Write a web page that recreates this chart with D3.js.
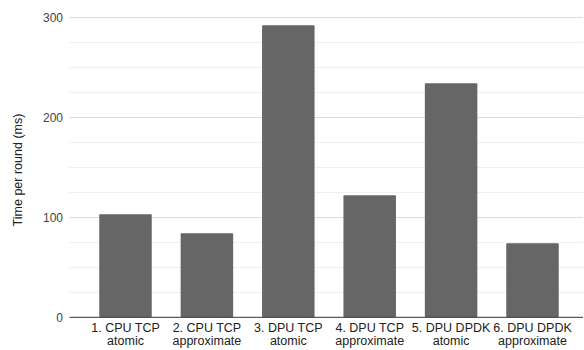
<!DOCTYPE html>
<html><head><meta charset="utf-8">
<script src="https://cdn.jsdelivr.net/npm/d3@7"></script>
<style>body{margin:0;background:#fff;}svg{display:block;font-family:"Liberation Sans",Arial,sans-serif;}</style>
</head><body><svg id="c" width="584" height="350"></svg>
<script>
const categories = ["1. CPU TCP\natomic","2. CPU TCP\napproximate","3. DPU TCP\natomic","4. DPU TCP\napproximate","5. DPU DPDK\natomic","6. DPU DPDK\napproximate"];
const values = [103, 84, 292, 122, 234, 74];
const majorTicks = [0, 100, 200, 300];
const minorTicks = [25, 50, 75, 125, 150, 175, 225, 250, 275];
const yTitle = "Time per round (ms)";

const svg = d3.select("#c");
const y = d3.scaleLinear().domain([0, 300]).range([317.3, 17.3]);
const x = d3.scaleBand().domain(categories).range([84.8, 573.2]).paddingInner(0.355).paddingOuter(0.1775);
const gridL = 69.5, gridR = 583;

svg.append("g").selectAll("line").data(minorTicks).join("line")
  .attr("x1", gridL).attr("x2", gridR).attr("y1", d => Math.round(y(d)) + 0.5).attr("y2", d => Math.round(y(d)) + 0.5)
  .attr("stroke", "#efefef").attr("stroke-width", 1);
svg.append("g").selectAll("line").data(majorTicks.filter(d => d > 0)).join("line")
  .attr("x1", gridL).attr("x2", gridR).attr("y1", d => Math.round(y(d)) + 0.5).attr("y2", d => Math.round(y(d)) + 0.5)
  .attr("stroke", "#dcdcdc").attr("stroke-width", 1);

svg.append("g").selectAll("rect").data(values).join("rect")
  .attr("x", (d, i) => x(categories[i])).attr("width", x.bandwidth())
  .attr("y", d => y(d)).attr("height", d => y(0) - y(d))
  .attr("rx", 1).attr("fill", "#666666");

svg.append("line").attr("x1", gridL).attr("x2", gridR).attr("y1", y(0)).attr("y2", y(0))
  .attr("stroke", "#333").attr("stroke-width", 1);

svg.append("g").selectAll("text").data(majorTicks).join("text")
  .attr("x", 63).attr("y", d => y(d)).attr("dy", "0.35em").attr("text-anchor", "end")
  .attr("font-size", 12).attr("fill", "#444").text(d => d);

const cat = svg.append("g").selectAll("text").data(categories).join("text")
  .attr("text-anchor", "middle").attr("font-size", 12.5).attr("fill", "#222")
  .attr("transform", d => `translate(${x(d) + x.bandwidth() / 2},0)`);
cat.selectAll("tspan").data(d => d.split("\n")).join("tspan")
  .attr("x", 0).attr("y", (d, i) => 331.5 + i * 13.5).text(d => d);

svg.append("text").attr("transform", "translate(22,170) rotate(-90)")
  .attr("text-anchor", "middle").attr("font-size", 12.5).attr("fill", "#222").text(yTitle);
</script></body></html>
